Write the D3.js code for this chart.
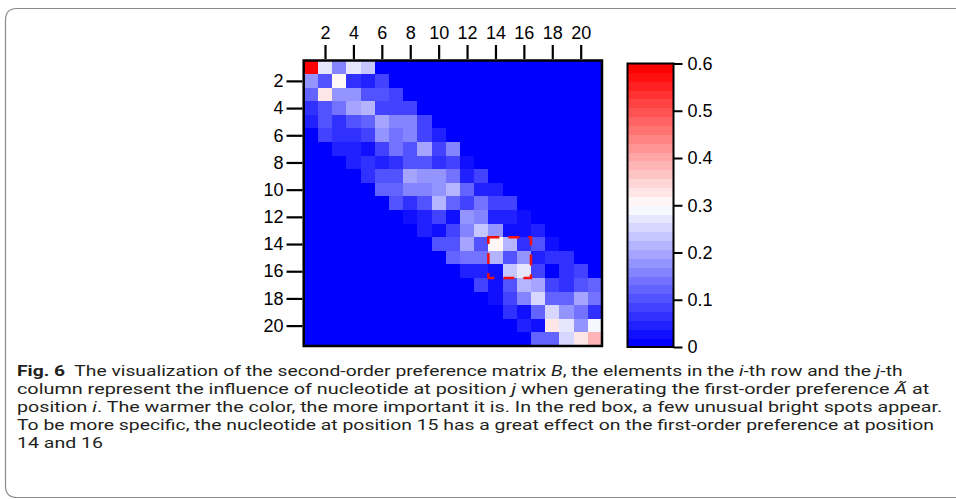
<!DOCTYPE html>
<html lang="en">
<head>
  <meta charset="UTF-8">
  <title>Fig. 6</title>
  <script src="https://d3js.org/d3.v7.min.js"></script>
  <style>
    * { margin: 0; padding: 0; box-sizing: border-box; }
    body { background: #fff; font-family: "Liberation Sans", Arial, sans-serif; }
    svg { display: block; }
  </style>
</head>
<body>
  <div id="chart"></div>

  <script>
    // positions i (rows) and j (columns)
    const rowPos = [1, 2, 3, 4, 5, 6, 7, 8, 9, 10, 11, 12, 13, 14, 15, 16, 17, 18, 19, 20, 21];
    const colPos = [1, 2, 3, 4, 5, 6, 7, 8, 9, 10, 11, 12, 13, 14, 15, 16, 17, 18, 19, 20, 21];
    const posTicks = [2, 4, 6, 8, 10, 12, 14, 16, 18, 20];
    const barTicks = [0, 0.1, 0.2, 0.3, 0.4, 0.5, 0.6];
    const boxRows = [14, 16];
    const boxCols = [14, 16];

    // second-order preference matrix B
    const matrixB = [
      [0.6, 0.27, 0.16, 0.27, 0.235, 0, 0, 0, 0, 0, 0, 0, 0, 0, 0, 0, 0, 0, 0, 0, 0],
      [0.18, 0.10, 0.31, 0.07, 0.05, 0.085, 0, 0, 0, 0, 0, 0, 0, 0, 0, 0, 0, 0, 0, 0, 0],
      [0.12, 0.33, 0.18, 0.18, 0.10, 0.10, 0.085, 0, 0, 0, 0, 0, 0, 0, 0, 0, 0, 0, 0, 0, 0],
      [0.07, 0.10, 0.14, 0.20, 0.215, 0.085, 0.085, 0.085, 0, 0, 0, 0, 0, 0, 0, 0, 0, 0, 0, 0, 0],
      [0.05, 0.10, 0.07, 0.10, 0.12, 0.20, 0.16, 0.16, 0.085, 0, 0, 0, 0, 0, 0, 0, 0, 0, 0, 0, 0],
      [0, 0.085, 0.07, 0.07, 0.085, 0.18, 0.14, 0.16, 0.085, 0.05, 0, 0, 0, 0, 0, 0, 0, 0, 0, 0, 0],
      [0, 0, 0.05, 0.05, 0.03, 0.085, 0.14, 0.10, 0.20, 0.085, 0.16, 0, 0, 0, 0, 0, 0, 0, 0, 0, 0],
      [0, 0, 0, 0.05, 0.07, 0.05, 0.07, 0.10, 0.10, 0.07, 0.085, 0.03, 0, 0, 0, 0, 0, 0, 0, 0, 0],
      [0, 0, 0, 0, 0.07, 0.10, 0.10, 0.20, 0.18, 0.18, 0.14, 0.05, 0.085, 0, 0, 0, 0, 0, 0, 0, 0],
      [0, 0, 0, 0, 0, 0.12, 0.12, 0.16, 0.16, 0.18, 0.215, 0.12, 0.05, 0.05, 0, 0, 0, 0, 0, 0, 0],
      [0, 0, 0, 0, 0, 0, 0.10, 0.07, 0.10, 0.215, 0.12, 0.085, 0.14, 0.085, 0.085, 0, 0, 0, 0, 0, 0],
      [0, 0, 0, 0, 0, 0, 0, 0.03, 0.05, 0.085, 0.03, 0.18, 0.16, 0.05, 0.05, 0.03, 0, 0, 0, 0, 0],
      [0, 0, 0, 0, 0, 0, 0, 0, 0.05, 0.03, 0.085, 0.15, 0.235, 0.18, 0.03, 0.03, 0.05, 0, 0, 0, 0],
      [0, 0, 0, 0, 0, 0, 0, 0, 0, 0.10, 0.10, 0.20, 0.10, 0.31, 0.215, 0.07, 0.10, 0.03, 0, 0, 0],
      [0, 0, 0, 0, 0, 0, 0, 0, 0, 0, 0.12, 0.14, 0.14, 0.215, 0.10, 0.18, 0.05, 0.07, 0.07, 0, 0],
      [0, 0, 0, 0, 0, 0, 0, 0, 0, 0, 0, 0.05, 0.05, 0.03, 0.235, 0.27, 0.085, 0, 0.07, 0.085, 0],
      [0, 0, 0, 0, 0, 0, 0, 0, 0, 0, 0, 0, 0.085, 0.03, 0.10, 0.215, 0.19, 0.085, 0.07, 0.10, 0.12],
      [0, 0, 0, 0, 0, 0, 0, 0, 0, 0, 0, 0, 0, 0.03, 0.085, 0.16, 0.255, 0.12, 0.12, 0.20, 0.14],
      [0, 0, 0, 0, 0, 0, 0, 0, 0, 0, 0, 0, 0, 0, 0.07, 0.03, 0.13, 0.255, 0.18, 0.14, 0.07],
      [0, 0, 0, 0, 0, 0, 0, 0, 0, 0, 0, 0, 0, 0, 0, 0.05, 0.03, 0.33, 0.27, 0.18, 0.29],
      [0, 0, 0, 0, 0, 0, 0, 0, 0, 0, 0, 0, 0, 0, 0, 0, 0.12, 0.12, 0.255, 0.33, 0.38]
    ];

    const W = 956, H = 499;
    const svg = d3.select("#chart").append("svg")
      .attr("width", W).attr("height", H);

    // figure frame (rounded on the left, open to the right)
    svg.append("path")
      .attr("d", "M956,8.5 L17,8.5 Q5.5,8.5 5.5,20 L5.5,486 Q5.5,497.5 17,497.5 L956,497.5")
      .attr("fill", "none")
      .attr("stroke", "#8a8a8a")
      .attr("stroke-width", 1.2);

    // heatmap scales
    const x = d3.scaleBand().domain(colPos).range([303.7, 602]);
    const y = d3.scaleBand().domain(rowPos).range([60.5, 346]);

    // 32-step blue-white-red colormap (linear through white)
    const cmap = d3.piecewise(d3.interpolateRgb, ["#0000ff", "#ffffff", "#ff0000"]);
    const steps = d3.range(32).map(i => cmap(i / 31));
    const color = d3.scaleQuantize().domain([0, 0.6]).range(steps);

    const cells = [];
    matrixB.forEach((row, i) => row.forEach((v, j) => cells.push({ r: rowPos[i], c: colPos[j], v })));

    const g = svg.append("g");
    g.selectAll("rect.cell")
      .data(cells)
      .enter().append("rect")
      .attr("class", "cell")
      .attr("x", d => x(d.c))
      .attr("y", d => y(d.r))
      .attr("width", x.bandwidth() + 0.5)
      .attr("height", y.bandwidth() + 0.5)
      .attr("fill", d => color(d.v))
      .attr("shape-rendering", "crispEdges");

    // red dashed highlight box
    g.append("rect")
      .attr("x", x(boxCols[0]))
      .attr("y", y(boxRows[0]))
      .attr("width", x(boxCols[1]) + x.bandwidth() - x(boxCols[0]))
      .attr("height", y(boxRows[1]) + y.bandwidth() - y(boxRows[0]))
      .attr("fill", "none")
      .attr("stroke", "#f01010")
      .attr("stroke-width", 2.5)
      .attr("stroke-dasharray", "11,9");

    // frame of the matrix
    g.append("rect")
      .attr("x", 303.7).attr("y", 60.5)
      .attr("width", 602 - 303.7).attr("height", 346 - 60.5)
      .attr("fill", "none")
      .attr("stroke", "#000")
      .attr("stroke-width", 2.5);

    // axes: ticks on cell centres
    const xc = d3.scalePoint().domain(colPos).range([303.7 + x.bandwidth() / 2, 602 - x.bandwidth() / 2]);
    const yc = d3.scalePoint().domain(rowPos).range([60.5 + y.bandwidth() / 2, 346 - y.bandwidth() / 2]);

    const topAxis = svg.append("g")
      .attr("transform", "translate(0,59)")
      .call(d3.axisTop(xc).tickValues(posTicks).tickSize(14).tickPadding(6));
    const leftAxis = svg.append("g")
      .attr("transform", "translate(302.5,0)")
      .call(d3.axisLeft(yc).tickValues(posTicks).tickSize(16).tickPadding(3));

    [topAxis, leftAxis].forEach(a => {
      a.select(".domain").remove();
      a.selectAll("line").attr("stroke", "#000").attr("stroke-width", 2.2);
      a.selectAll("text")
        .attr("fill", "#000")
        .style("font-family", "'Liberation Sans', Arial, sans-serif")
        .style("font-size", "18px");
    });

    // colour bar
    const cb = d3.scaleLinear().domain([0, 0.6]).range([347, 63.5]);
    const cbX = 627.5, cbW = 46;
    const bands = steps.map((c, i) => ({ c, lo: i * 0.6 / 32, hi: (i + 1) * 0.6 / 32 }));
    svg.append("g").selectAll("rect")
      .data(bands)
      .enter().append("rect")
      .attr("x", cbX)
      .attr("y", d => cb(d.hi))
      .attr("width", cbW)
      .attr("height", d => cb(d.lo) - cb(d.hi) + 0.5)
      .attr("fill", d => d.c)
      .attr("shape-rendering", "crispEdges");
    svg.append("rect")
      .attr("x", cbX).attr("y", cb(0.6))
      .attr("width", cbW).attr("height", cb(0) - cb(0.6))
      .attr("fill", "none").attr("stroke", "#000").attr("stroke-width", 2);

    const cbAxis = svg.append("g")
      .attr("transform", `translate(${cbX + cbW},0)`)
      .call(d3.axisRight(cb).tickValues(barTicks).tickSize(9).tickPadding(5)
        .tickFormat(d => d === 0 ? "0" : d3.format(".1f")(d)));
    cbAxis.select(".domain").remove();
    cbAxis.selectAll("line").attr("stroke", "#000").attr("stroke-width", 2);
    cbAxis.selectAll("text")
      .attr("fill", "#000")
      .style("font-family", "'Liberation Sans', Arial, sans-serif")
      .style("font-size", "18px");

    // caption, squeezed horizontally to mimic the condensed journal face
    const capLines = [
      { y: 375.5, w: 886, parts: [["Fig. 6", "b"], ["  The visualization of the second-order preference matrix ", ""], ["B", "i"], [", the elements in the ", ""], ["i", "i"], ["-th row and the ", ""], ["j", "i"], ["-th", ""]] },
      { y: 393.5, w: 913, parts: [["column represent the influence of nucleotide at position ", ""], ["j", "i"], [" when generating the first-order preference ", ""], ["Ã", "i"], [" at", ""]] },
      { y: 411.5, w: 926, parts: [["position ", ""], ["i", "i"], [". The warmer the color, the more important it is. In the red box, a few unusual bright spots appear.", ""]] },
      { y: 429.5, w: 918, parts: [["To be more specific, the nucleotide at position 15 has a great effect on the first-order preference at position", ""]] },
      { y: 447.5, w: null, parts: [["14 and 16", ""]] }
    ];
    const cap = svg.append("g")
      .style("font-family", "'Roboto', 'Liberation Sans', sans-serif")
      .style("font-size", "15.3px")
      .attr("fill", "#231f20");
    const texts = capLines.map(l => {
      const t = cap.append("text")
        .attr("x", 0).attr("y", 0)
        .attr("xml:space", "preserve");
      l.parts.forEach(([s, f]) => {
        const sp = t.append("tspan").text(s);
        if (f === "b") sp.style("font-weight", "bold");
        if (f === "i") sp.style("font-style", "italic");
      });
      return t;
    });
    const factors = capLines.map((l, i) => l.w ? l.w / texts[i].node().getComputedTextLength() : null);
    const meanK = d3.mean(factors.filter(f => f));
    texts.forEach((t, i) => {
      const k = factors[i] || meanK;
      t.attr("transform", `translate(17,${capLines[i].y}) scale(${k},1)`);
    });
  </script>
</body>
</html>
